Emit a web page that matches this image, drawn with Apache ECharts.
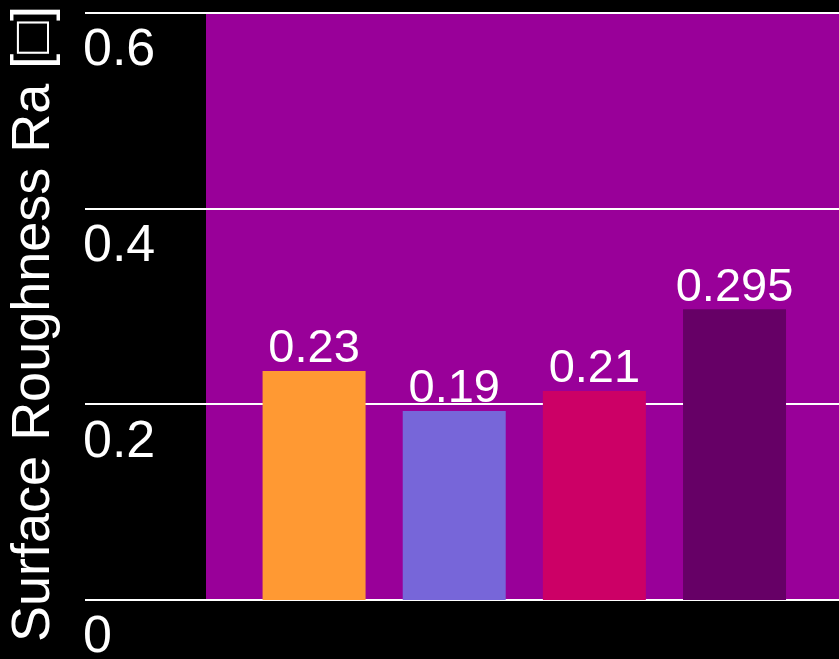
<!DOCTYPE html>
<html><head><meta charset="utf-8">
<script src="https://cdn.jsdelivr.net/npm/echarts@6/dist/echarts.min.js"></script>
<style>html,body{margin:0;padding:0;background:#000;}#c{width:839px;height:659px;}</style>
</head><body><div id="c"></div>
<script>
const categories = ['A', 'B', 'C', 'D'];
const values = [0.234, 0.193, 0.2135, 0.297];
const labelTexts = ['0.23', '0.19', '0.21', '0.295'];
const barColors = ['#FF9933', '#7766D9', '#CC0066', '#660066'];
const yTicks = { min: 0, max: 0.6, interval: 0.2 };
const yTitle = 'Surface Roughness Ra [\u25A1]';
const FONT = 'Liberation Sans, Arial, sans-serif';

const chart = echarts.init(document.getElementById('c'), null, { renderer: 'canvas' });
chart.setOption({
  backgroundColor: '#000000',
  animation: false,
  grid: [
    { left: 85, right: 0, top: 12.5, bottom: 59, outerBoundsMode: 'none', containLabel: false },
    { left: 244, right: 34.4, top: 12.5, bottom: 59, outerBoundsMode: 'none', containLabel: false },
    { left: 206, right: 0, top: 13.5, bottom: 59, show: true, backgroundColor: '#990099', borderWidth: 0, outerBoundsMode: 'none' }
  ],
  xAxis: [
    { gridIndex: 0, type: 'value', show: false },
    { gridIndex: 1, type: 'category', data: categories, show: false },
    { gridIndex: 2, type: 'value', show: false }
  ],
  yAxis: [
    { gridIndex: 0, type: 'value', min: yTicks.min, max: yTicks.max, interval: yTicks.interval,
      axisLine: { show: false }, axisTick: { show: false },
      splitLine: { show: true, lineStyle: { color: '#ffffff', width: 2 } },
      axisLabel: { inside: true, margin: -2, color: '#ffffff', fontSize: 52, fontFamily: FONT,
        align: 'left', verticalAlign: 'top', lineHeight: 76 },
      z: 5 },
    { gridIndex: 1, type: 'value', min: yTicks.min, max: yTicks.max, interval: yTicks.interval, show: false },
    { gridIndex: 2, type: 'value', show: false }
  ],
  graphic: [{
    type: 'text', x: 34, y: 324, rotation: Math.PI / 2, z: 10,
    style: { text: yTitle, fill: '#ffffff', font: '54px ' + FONT, textAlign: 'center', textVerticalAlign: 'middle' }
  }],
  series: [{
    type: 'bar', xAxisIndex: 1, yAxisIndex: 1, barWidth: 103, z: 10,
    data: values.map((v, i) => ({ value: v, itemStyle: { color: barColors[i] } })),
    label: { show: true, position: 'top', distance: 1, offset: [0, 3], color: '#ffffff', fontSize: 47, fontFamily: FONT,
      formatter: p => labelTexts[p.dataIndex] }
  }]
});
</script></body></html>
